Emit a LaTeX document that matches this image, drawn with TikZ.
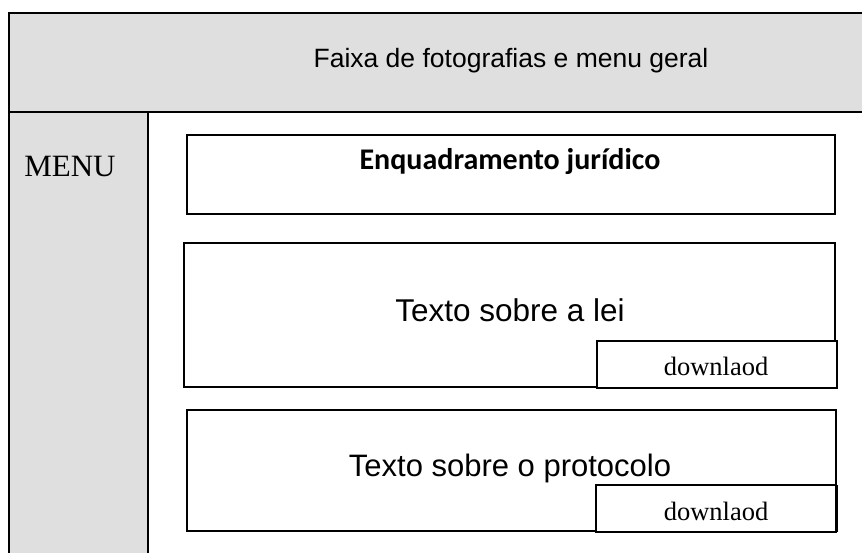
\documentclass[tikz,border=0pt]{standalone}
\usepackage{fontspec}
\setmainfont{Liberation Serif}
\newfontfamily\arialf{Liberation Sans}
\newfontfamily\calibrif{Carlito}
\definecolor{bandgray}{HTML}{DFDFDF}
\begin{document}
\begin{tikzpicture}[x=1pt,y=-1pt,
  frame/.style={draw=black,line width=2pt},
  boxline/.style={draw=black,line width=1.5pt},
  sanslabel/.style={font=\arialf\fontsize{31.5}{36}\selectfont,anchor=base,inner sep=0pt},
  dllabel/.style={font=\fontsize{26.5}{30}\selectfont,anchor=base,inner sep=0pt}]
\useasboundingbox (0,0) rectangle (862,553);
% top band and menu column
\fill[bandgray] (9,13) rectangle (862,112);
\fill[bandgray] (9,112) rectangle (148,553);
\draw[frame] (862,13) -- (9,13) -- (9,553);
\draw[frame] (9,112) -- (862,112);
\draw[frame] (148,112) -- (148,553);
\node[anchor=base,inner sep=0pt,font=\arialf\fontsize{26.5}{30}\selectfont] (band) at (511,68) {Faixa de fotografias e menu geral};
\node[anchor=base,inner sep=0pt,font=\fontsize{31}{36}\selectfont] (menu) at (70,177) {MENU};
% Enquadramento box
\draw[boxline] (187,135) rectangle (835,214);
\node[anchor=base,inner sep=0pt,font=\calibrif\bfseries\fontsize{30}{34}\selectfont] (enq) at (510,170) {Enquadramento jurídico};
% Lei box
\draw[boxline] (184,243) rectangle (835,387);
\node[sanslabel] (lei) at (510,321) {Texto sobre a lei};
\draw[boxline,fill=white] (597,341) rectangle (837,388);
\node[dllabel] (dl1) at (716,375) {downlaod};
% Protocolo box
\draw[boxline] (187,410) rectangle (836,531);
\node[sanslabel,font=\arialf\fontsize{31}{36}\selectfont] (prot) at (510,476) {Texto sobre o protocolo};
\draw[boxline,fill=white] (596,485) rectangle (836,532);
\draw[line width=2.5pt] (837,485) -- (837,532);
\node[dllabel] (dl2) at (716,520) {downlaod};
\end{tikzpicture}
\end{document}
